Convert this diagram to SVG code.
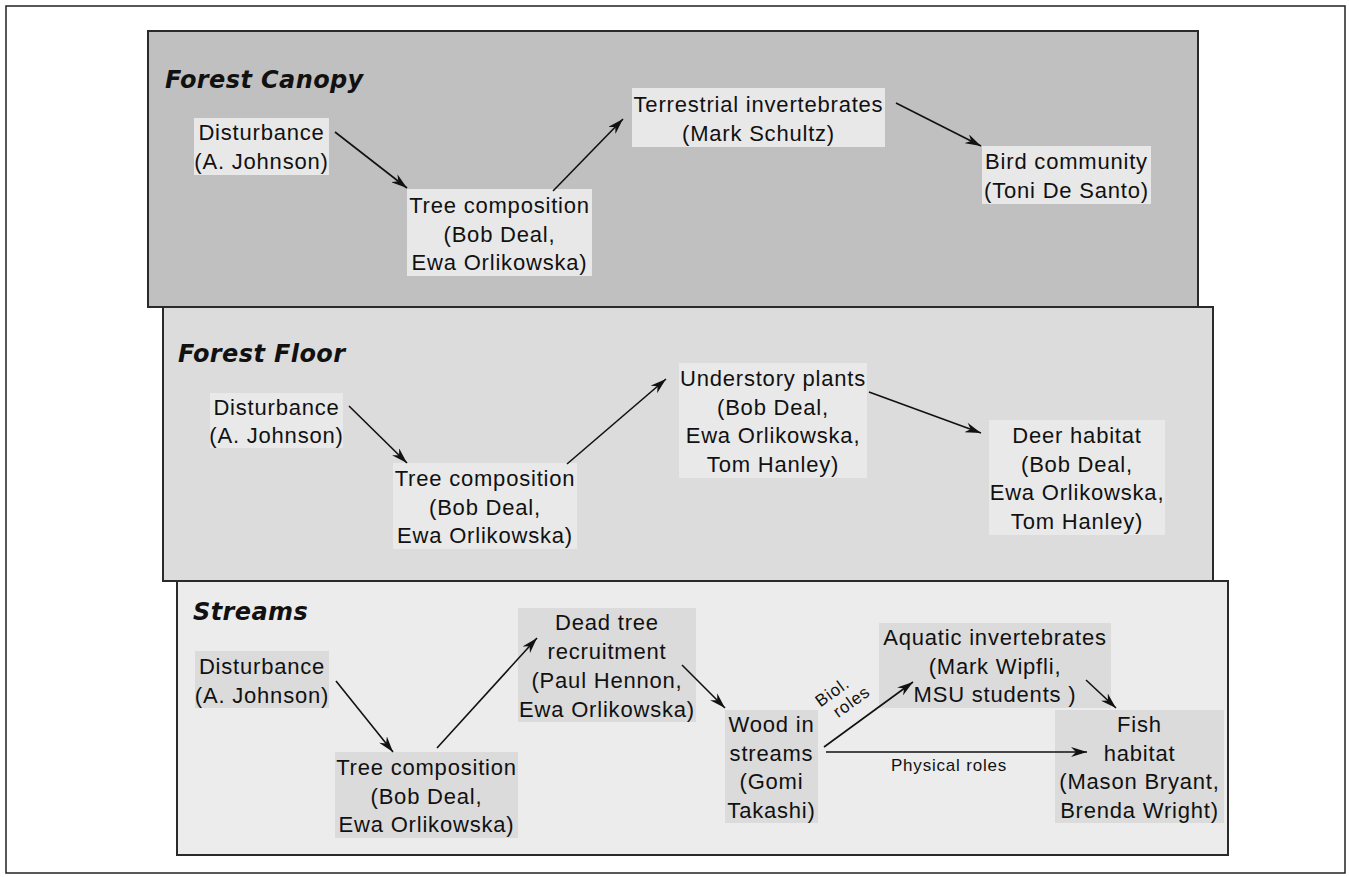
<svg xmlns="http://www.w3.org/2000/svg" width="1349" height="877" viewBox="0 0 1349 877">
<style>
.panel{stroke:#2a2a2a;stroke-width:2}
.p1{fill:#c0c0c0}
.p2{fill:#dcdcdc}
.p3{fill:#ececec}
.n1{fill:#e8e8e8}
.n2{fill:#e9e9e9}
.n3{fill:#dbdbdb}
.title{font-family:"DejaVu Sans",sans-serif;font-weight:bold;font-style:italic;font-size:24px;letter-spacing:0.4px;fill:#111}
.t{font-family:"Liberation Sans",Arial,sans-serif;font-size:22px;letter-spacing:0.8px;fill:#111;text-anchor:middle}
.s{font-family:"Liberation Sans",Arial,sans-serif;font-size:17px;letter-spacing:0.8px;fill:#111;text-anchor:middle}
.c{stroke:#111;stroke-width:1.6;fill:none;marker-end:url(#ah)}
</style>
<defs>
<marker id="ah" viewBox="0 0 16 10" refX="16" refY="5" markerWidth="16" markerHeight="10" markerUnits="userSpaceOnUse" orient="auto">
<path d="M0,0 L16,5 L0,10 L5,5 Z" fill="#111"/>
</marker>
</defs>
<rect x="0" y="0" width="1349" height="877" fill="#ffffff"/>
<rect x="6" y="6" width="1339" height="867" fill="none" stroke="#222" stroke-width="1.5"/>

<g id="panel-canopy">
<rect class="panel p1" x="148" y="31" width="1050" height="276"/>
<text class="title" x="165" y="88">Forest Canopy</text>
</g>
<g id="panel-floor">
<rect class="panel p2" x="163" y="307" width="1050" height="274"/>
<text class="title" x="178" y="362">Forest Floor</text>
</g>
<g id="panel-streams">
<rect class="panel p3" x="177" y="581" width="1051" height="274"/>
<text class="title" x="193" y="620">Streams</text>
</g>

<g id="canopy-disturbance">
<rect class="n1" x="194" y="118" width="135" height="57"/>
<text class="t" x="261.5" y="140">Disturbance</text>
<text class="t" x="261.5" y="168.5">(A. Johnson)</text>
</g>
<g id="canopy-tree">
<rect class="n1" x="407" y="189" width="185" height="87"/>
<text class="t" x="499.5" y="213">Tree composition</text>
<text class="t" x="499.5" y="241.5">(Bob Deal,</text>
<text class="t" x="499.5" y="270">Ewa Orlikowska)</text>
</g>
<g id="canopy-terrestrial">
<rect class="n1" x="632" y="88" width="253" height="59"/>
<text class="t" x="758.5" y="112">Terrestrial invertebrates</text>
<text class="t" x="758.5" y="140.5">(Mark Schultz)</text>
</g>
<g id="canopy-bird">
<rect class="n1" x="982" y="146" width="169" height="58"/>
<text class="t" x="1066.5" y="169">Bird community</text>
<text class="t" x="1066.5" y="197.5">(Toni De Santo)</text>
</g>

<g id="floor-disturbance">
<rect class="n2" x="210" y="393" width="133" height="55"/>
<text class="t" x="276.5" y="415">Disturbance</text>
<text class="t" x="276.5" y="443">(A. Johnson)</text>
</g>
<g id="floor-tree">
<rect class="n2" x="393" y="463" width="184" height="86"/>
<text class="t" x="485" y="486">Tree composition</text>
<text class="t" x="485" y="514.5">(Bob Deal,</text>
<text class="t" x="485" y="543">Ewa Orlikowska)</text>
</g>
<g id="floor-understory">
<rect class="n2" x="679" y="363" width="188" height="115"/>
<text class="t" x="773" y="386">Understory plants</text>
<text class="t" x="773" y="414.5">(Bob Deal,</text>
<text class="t" x="773" y="443">Ewa Orlikowska,</text>
<text class="t" x="773" y="471.5">Tom Hanley)</text>
</g>
<g id="floor-deer">
<rect class="n2" x="989" y="420" width="176" height="115"/>
<text class="t" x="1077" y="443">Deer habitat</text>
<text class="t" x="1077" y="471.5">(Bob Deal,</text>
<text class="t" x="1077" y="500">Ewa Orlikowska,</text>
<text class="t" x="1077" y="528.5">Tom Hanley)</text>
</g>

<g id="streams-disturbance">
<rect class="n3" x="195" y="651" width="134" height="57"/>
<text class="t" x="262" y="674">Disturbance</text>
<text class="t" x="262" y="702.5">(A. Johnson)</text>
</g>
<g id="streams-tree">
<rect class="n3" x="335" y="752" width="183" height="86"/>
<text class="t" x="426.5" y="775">Tree composition</text>
<text class="t" x="426.5" y="803.5">(Bob Deal,</text>
<text class="t" x="426.5" y="832">Ewa Orlikowska)</text>
</g>
<g id="streams-deadtree">
<rect class="n3" x="518" y="608" width="178" height="114"/>
<text class="t" x="607" y="630">Dead tree</text>
<text class="t" x="607" y="659">recruitment</text>
<text class="t" x="607" y="688">(Paul Hennon,</text>
<text class="t" x="607" y="716.5">Ewa Orlikowska)</text>
</g>
<g id="streams-wood">
<rect class="n3" x="725" y="710" width="93" height="113"/>
<text class="t" x="771.5" y="732">Wood in</text>
<text class="t" x="771.5" y="760.5">streams</text>
<text class="t" x="771.5" y="789">(Gomi</text>
<text class="t" x="771.5" y="817.5">Takashi)</text>
</g>
<g id="streams-aquatic">
<rect class="n3" x="879" y="623" width="232" height="85"/>
<text class="t" x="995" y="645">Aquatic invertebrates</text>
<text class="t" x="995" y="673.5">(Mark Wipfli,</text>
<text class="t" x="995" y="702">MSU students )</text>
</g>
<g id="streams-fish">
<rect class="n3" x="1055" y="710" width="169" height="113"/>
<text class="t" x="1139.5" y="732">Fish</text>
<text class="t" x="1139.5" y="760.5">habitat</text>
<text class="t" x="1139.5" y="789">(Mason Bryant,</text>
<text class="t" x="1139.5" y="817.5">Brenda Wright)</text>
</g>

<g id="connectors">
<line class="c" x1="335" y1="132" x2="407" y2="188"/>
<line class="c" x1="553" y1="191" x2="623" y2="119"/>
<line class="c" x1="896" y1="103" x2="981" y2="146"/>
<line class="c" x1="349" y1="406" x2="407" y2="463"/>
<line class="c" x1="567" y1="464" x2="666" y2="379"/>
<line class="c" x1="869" y1="392" x2="981" y2="433"/>
<line class="c" x1="336" y1="681" x2="393" y2="752"/>
<line class="c" x1="437" y1="748" x2="537" y2="638"/>
<line class="c" x1="682" y1="665" x2="725" y2="708"/>
<line class="c" x1="824" y1="747" x2="913" y2="682"/>
<line class="c" x1="1086" y1="680" x2="1116" y2="708"/>
<line class="c" x1="826" y1="752" x2="1087" y2="752"/>
<g transform="translate(842,697) rotate(-36)">
<text class="s" x="-5" y="-4">Biol.</text>
<text class="s" x="5" y="15">roles</text>
</g>
<text class="s" x="949" y="771">Physical roles</text>
</g>
</svg>
